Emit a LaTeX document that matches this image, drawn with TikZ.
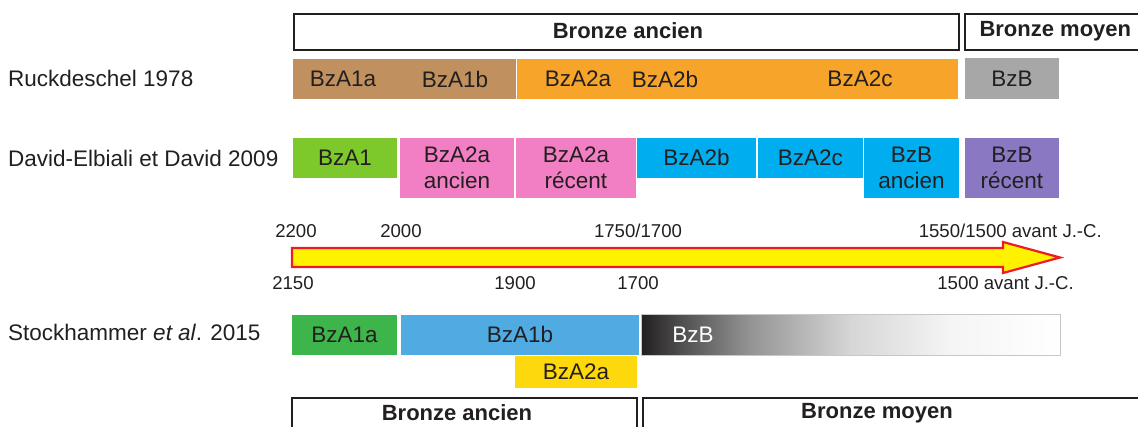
\documentclass[tikz,border=0pt]{standalone}
\usepackage{fontspec}
\setmainfont{Liberation Sans}
\definecolor{txt}{HTML}{231F20}
\definecolor{brownA}{HTML}{C0915E}
\definecolor{orangeA}{HTML}{F7A52A}
\definecolor{greyB}{HTML}{A7A7A7}
\definecolor{greenD}{HTML}{7DC82A}
\definecolor{pinkD}{HTML}{F27FC3}
\definecolor{cyanD}{HTML}{00AEEF}
\definecolor{purpleD}{HTML}{8A78C2}
\definecolor{greenS}{HTML}{3DB54A}
\definecolor{blueS}{HTML}{4FABE2}
\definecolor{yellowS}{HTML}{FDD80C}
\definecolor{arrowred}{HTML}{ED1C24}
\definecolor{arrowyel}{HTML}{FFF200}
\pgfdeclarehorizontalshading{bzbshade}{100bp}{color(0bp)=(txt); color(25bp)=(txt); color(30bp)=(black!68); color(38bp)=(black!42); color(50bp)=(black!16); color(62bp)=(black!4); color(75bp)=(white); color(100bp)=(white)}
\tikzset{
  blk/.style={anchor=north west, inner sep=0pt, draw=white, line width=0.8pt, text=txt, align=center, font=\fontsize{22.5}{26}\selectfont},
  frame/.style={anchor=north west, inner sep=0pt, draw=txt, line width=2pt, fill=white},
  hdr/.style={font=\fontsize{22}{26}\selectfont\bfseries, text=txt},
  lbl/.style={font=\fontsize{22.5}{26}\selectfont, text=txt, anchor=west, inner sep=0pt},
  num/.style={font=\fontsize{18.6}{22}\selectfont, text=txt, inner sep=0pt},
  txtonly/.style={font=\fontsize{22.5}{26}\selectfont, text=txt, inner sep=0pt}
}
\begin{document}
\begin{tikzpicture}[x=1pt,y=-1pt]
\useasboundingbox (0,0) rectangle (1138,427);
\clip (0,0) rectangle (1138,427);
% top headers
\node[frame, minimum width=665pt, minimum height=36pt] (hA) at (293,13) {};
\node[hdr] (hAt) at (628,31) {Bronze ancien};
\node[frame, minimum width=190pt, minimum height=36pt] (hM) at (964,13) {};
\node[hdr, anchor=west] (hMt) at (976,31) {Bronze moyen};
% left labels
\node[lbl] (l1) at (8,78) {Ruckdeschel 1978};
\node[lbl] (l2) at (8,158) {David-Elbiali et David 2009};
\node[lbl] (l3) at (8,332) {Stockhammer \textit{et al}. 2015};
% Ruckdeschel
\node[blk, fill=brownA, minimum width=224pt, minimum height=41pt] (r1) at (292,58) {};
\node[txtonly] (r1a) at (343,79) {BzA1a};
\node[txtonly] (r1b) at (455,79) {BzA1b};
\node[blk, fill=orangeA, minimum width=442pt, minimum height=41pt] (r2) at (516,58) {};
\node[txtonly] (r2a) at (578,79) {BzA2a};
\node[txtonly] (r2b) at (665,79) {BzA2b};
\node[txtonly] (r2c) at (860,79) {BzA2c};
\node[blk, fill=greyB, minimum width=95pt, minimum height=42pt] (r3) at (964,57) {BzB};
% David
\node[blk, fill=greenD, minimum width=105pt, minimum height=41pt] (d1) at (292,137) {BzA1};
\node[blk, fill=pinkD, minimum width=115pt, minimum height=61pt] (d2) at (399,137) {BzA2a\\ancien};
\node[blk, fill=pinkD, minimum width=121pt, minimum height=61pt] (d3) at (515,137) {BzA2a\\récent};
\node[blk, fill=cyanD, minimum width=120pt, minimum height=41pt] (d4) at (636,137) {BzA2b};
\node[blk, fill=cyanD, minimum width=106pt, minimum height=41pt] (d5) at (757,137) {BzA2c};
\node[blk, fill=cyanD, minimum width=96pt, minimum height=61pt] (d6) at (863,137) {BzB\\ancien};
\node[blk, fill=purpleD, minimum width=95pt, minimum height=61pt] (d7) at (964,137) {BzB\\récent};
% arrow
\coordinate (a1) at (292,248);
\coordinate (a2) at (1003,248);
\coordinate (a3) at (1003,242);
\coordinate (a4) at (1060,257.5);
\coordinate (a5) at (1003,273);
\coordinate (a6) at (1003,267);
\coordinate (a7) at (292,267);
\draw[draw=arrowred, fill=arrowyel, line width=2.2pt, line join=miter] (a1) -- (a2) -- (a3) -- (a4) -- (a5) -- (a6) -- (a7) -- cycle;
\node[num] (n1) at (296,231) {2200};
\node[num] (n2) at (401,231) {2000};
\node[num] (n3) at (638,231) {1750/1700};
\node[num, anchor=east] (n4) at (1102,231) {1550/1500 avant J.-C.};
\node[num] (m1) at (293,283) {2150};
\node[num] (m2) at (515,283) {1900};
\node[num] (m3) at (638,283) {1700};
\node[num, anchor=east] (m4) at (1074,283) {1500 avant J.-C.};
% Stockhammer
\node[blk, fill=greenS, minimum width=106pt, minimum height=41pt] (s1) at (291,314) {BzA1a};
\node[blk, fill=blueS, minimum width=239pt, minimum height=41pt] (s2) at (400,314) {BzA1b};
\node[blk, fill=yellowS, minimum width=123pt, minimum height=33pt] (s3) at (514,355) {BzA2a};
\node[blk, shading=bzbshade, draw=black!22, minimum width=419pt, minimum height=41pt] (s4) at (641,314) {};
\node[txtonly, text=white] (s4t) at (693,335) {BzB};
% bottom headers
\node[frame, minimum width=345pt, minimum height=50pt] (bA) at (291,397) {};
\node[hdr] (bAt) at (457,413) {Bronze ancien};
\node[frame, minimum width=520pt, minimum height=50pt] (bM) at (642,397) {};
\node[hdr] (bMt) at (877,413) {Bronze moyen};
\end{tikzpicture}
\end{document}
